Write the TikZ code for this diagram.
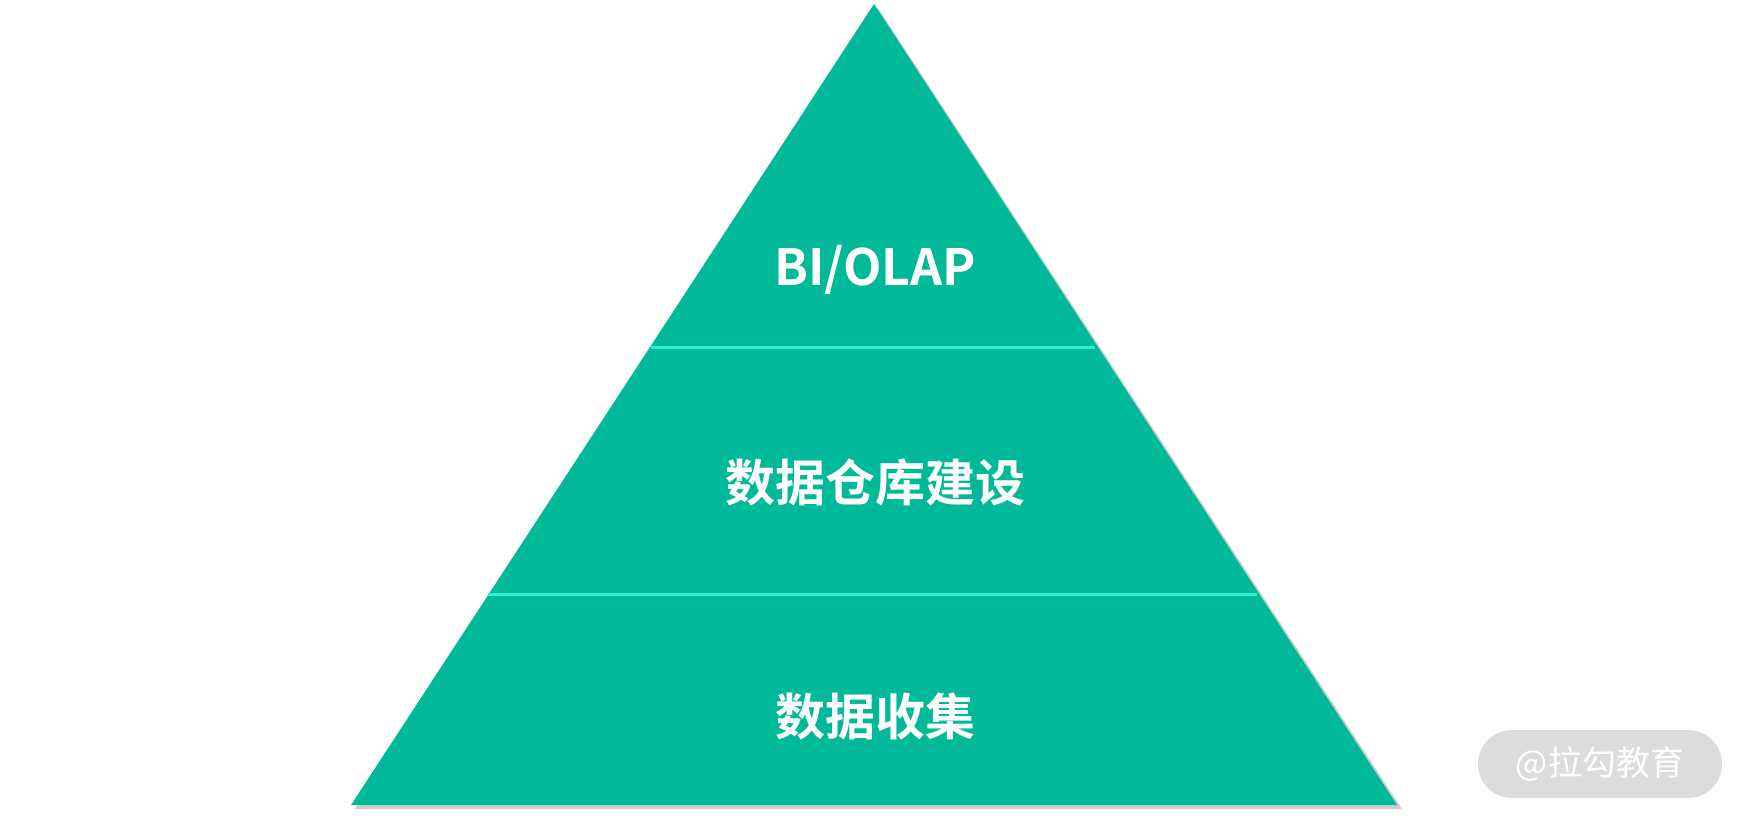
\documentclass[tikz,border=0pt]{standalone}
\usepackage{fontspec}
\newfontfamily\cjk{Noto Sans CJK SC}
\newfontfamily\cjkbold{Noto Sans CJK SC Bold}
\usepackage{tikz}
\definecolor{pyrgreen}{HTML}{00B998}
\definecolor{pyrline}{HTML}{2EF0C8}
\definecolor{badgegray}{HTML}{DCDCDC}

\begin{document}
\begin{tikzpicture}[
    x=1pt, y=-1pt,
    layer/.style={text=white, font=\cjkbold\fontsize{50}{56}\selectfont},
    divider/.style={draw=pyrline, line width=3pt}
]
\useasboundingbox (0,0) rectangle (1748,822);

% Shadow and pyramid
\fill[black!40, opacity=0.5] (878,8) -- (1402,809) -- (355,809) -- cycle;
\fill[pyrgreen] (874,4) coordinate (apex) -- (1397,805) coordinate (br) -- (351,805) coordinate (bl) -- cycle;

% Dividers
\coordinate (d1l) at (651,347);
\coordinate (d1r) at (1095,347);
\coordinate (d2l) at (488,594);
\coordinate (d2r) at (1257,594);
\draw[divider] (d1l) -- (d1r);
\draw[divider] (d2l) -- (d2r);

% Layer labels
\node[layer] (bi) at (875,270) {BI/OLAP};
\node[layer] (dw) at (875,482) {数据仓库建设};
\node[layer] (dc) at (875,716) {数据收集};

% Watermark
\node[fill=badgegray, rounded corners=34pt, minimum width=244pt, minimum height=68pt,
      text=white, font=\cjk\fontsize{34}{38}\selectfont] (badge) at (1600,764) {@拉勾教育};
\end{tikzpicture}
\end{document}
